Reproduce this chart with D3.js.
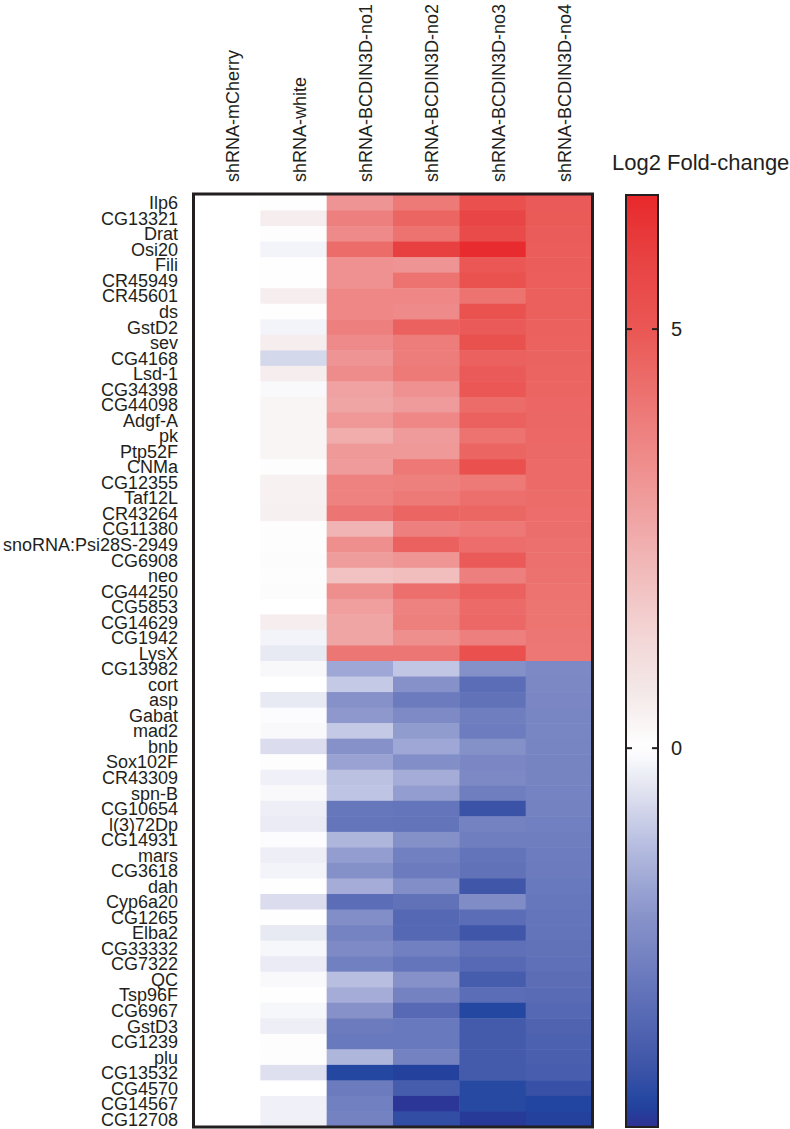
<!DOCTYPE html>
<html>
<head>
<meta charset="utf-8">
<script src="https://cdn.jsdelivr.net/npm/d3@7"></script>
<style>
  html, body { margin: 0; padding: 0; background: #ffffff; }
  svg { display: block; }
  text { font-family: "Liberation Sans", Arial, sans-serif; fill: #231f20; }
</style>
</head>
<body>
<svg id="chart" width="790" height="1129"></svg>
<script>
// ---------------- data ----------------
const samples = ["shRNA-mCherry", "shRNA-white", "shRNA-BCDIN3D-no1",
                 "shRNA-BCDIN3D-no2", "shRNA-BCDIN3D-no3", "shRNA-BCDIN3D-no4"];

const genes = ["Ilp6","CG13321","Drat","Osi20","Fili","CR45949","CR45601","ds","GstD2","sev",
  "CG4168","Lsd-1","CG34398","CG44098","Adgf-A","pk","Ptp52F","CNMa","CG12355","Taf12L",
  "CR43264","CG11380","snoRNA:Psi28S-2949","CG6908","neo","CG44250","CG5853","CG14629","CG1942","LysX",
  "CG13982","cort","asp","Gabat","mad2","bnb","Sox102F","CR43309","spn-B","CG10654",
  "l(3)72Dp","CG14931","mars","CG3618","dah","Cyp6a20","CG1265","Elba2","CG33332","CG7322",
  "QC","Tsp96F","CG6967","GstD3","CG1239","plu","CG13532","CG4570","CG14567","CG12708"];

const mCherry = [0,0,0,0,0,0,0,0,0,0, 0,0,0,0,0,0,0,0,0,0, 0,0,0,0,0,0,0,0,0,0,
                 0,0,0,0,0,0,0,0,0,0, 0,0,0,0,0,0,0,0,0,0, 0,0,0,0,0,0,0,0,0,0];

const white = [0.02,0.5,0.05,-0.2,0.03,0.03,0.5,0.02,-0.2,0.5,
  -0.7,0.5,-0.1,0.3,0.3,0.3,0.3,0.05,0.4,0.4,
  0.45,0.05,0.05,0.1,0.05,0.1,0.0,0.5,-0.2,-0.4,
  -0.12,0.0,-0.4,-0.05,-0.1,-0.6,0.05,-0.25,-0.1,-0.3,
  -0.35,-0.05,-0.3,-0.2,-0.02,-0.6,-0.02,-0.4,-0.15,-0.35,
  -0.1,-0.02,-0.15,-0.3,0.05,0.05,-0.55,0.0,-0.25,-0.25];

const no1 = [3.2,3.8,3.5,4.4,3.3,3.3,3.6,3.6,3.8,3.5,
  3.2,3.45,2.8,2.7,3.1,2.5,3.05,3.0,3.75,3.75,
  4.15,2.3,3.4,2.95,1.9,3.4,2.9,2.7,2.7,4.1,
  -1.6,-0.95,-2.05,-1.9,-0.95,-2.05,-1.7,-1.1,-1.05,-2.8,
  -2.85,-1.3,-1.8,-2.1,-1.5,-3.1,-2.15,-2.45,-2.25,-2.55,
  -1.15,-1.5,-2.05,-2.7,-2.75,-1.3,-4.2,-2.7,-2.55,-2.5];

const no2 = [4.0,4.6,4.2,5.9,3.2,4.2,3.6,3.5,4.7,3.9,
  3.9,4.0,3.3,3.0,3.6,3.0,3.05,4.05,3.85,4.0,
  4.6,3.8,4.7,3.15,2.05,4.3,3.75,3.85,3.35,4.1,
  -1.0,-2.05,-2.7,-2.25,-1.85,-1.6,-2.15,-1.5,-1.8,-2.85,
  -2.9,-2.1,-2.55,-2.7,-2.15,-2.95,-3.25,-3.25,-2.55,-2.85,
  -2.05,-2.5,-3.2,-2.75,-2.75,-2.5,-4.3,-3.6,-4.45,-4.0];

const no3 = [5.3,5.7,5.5,6.5,5.0,5.2,4.2,5.2,4.9,5.25,
  4.7,4.9,5.0,4.4,4.7,4.2,4.6,5.3,4.0,4.3,
  4.55,4.05,4.35,4.9,3.8,4.7,4.45,4.5,3.8,5.3,
  -2.1,-3.1,-2.95,-2.6,-2.65,-2.1,-2.35,-2.3,-2.6,-3.85,
  -2.5,-2.6,-2.9,-2.95,-3.75,-2.2,-3.1,-3.75,-3.0,-3.2,
  -3.6,-3.1,-4.2,-3.65,-3.65,-3.65,-3.65,-4.15,-4.15,-4.4];

const no4 = [4.9,4.88,4.86,4.84,4.82,4.8,4.77,4.74,4.71,4.68,
  4.65,4.62,4.59,4.56,4.53,4.5,4.47,4.44,4.41,4.38,
  4.35,4.32,4.29,4.26,4.23,4.2,4.17,4.14,4.11,4.08,
  -2.3,-2.32,-2.34,-2.36,-2.38,-2.4,-2.42,-2.44,-2.46,-2.5,
  -2.55,-2.6,-2.65,-2.7,-2.75,-2.8,-2.85,-2.9,-2.95,-3.0,
  -3.08,-3.15,-3.25,-3.4,-3.45,-3.5,-3.55,-3.9,-4.25,-4.3];

const colorbarTicks = [0, 5];
const colorbarTitle = "Log2 Fold-change";

// colour scale
const colorStops = [-4.52, -4.25, -3.8, -3.0, -2.0, -1.2, -0.5, 0, 0.7, 1.5, 2.7, 3.9, 5.0, 5.8, 6.6];
const colorRange = ["#2e3192","#2145a0","#3e55a8","#5f70b8","#8893ca","#b4bbdf","#e1e3f0","#ffffff",
                    "#f3e7e7","#f3d1d1","#f0a5a5","#ed7d7b","#ea5754","#e84444","#e8282b"];

// ---------------- drawing ----------------
(function () {
const columns = [mCherry, white, no1, no2, no3, no4];
const cells = [];
genes.forEach((g, i) => samples.forEach((s, j) => cells.push({gene: g, sample: s, value: columns[j][i]})));

const svg = d3.select("#chart");
const pL = 194, pR = 592, pT = 195, pB = 1127;

const x = d3.scaleBand().domain(samples).range([pL, pR]).padding(0);
const y = d3.scaleBand().domain(genes).range([pT, pB]).padding(0);
const color = d3.scaleLinear().domain(colorStops).range(colorRange).interpolate(d3.interpolateRgb).clamp(true);

svg.append("g").selectAll("rect").data(cells).join("rect")
  .attr("x", d => x(d.sample))
  .attr("y", d => y(d.gene))
  .attr("width", x.bandwidth() + 0.5)
  .attr("height", y.bandwidth() + 0.5)
  .attr("fill", d => color(d.value));

svg.append("rect")
  .attr("x", pL - 0.5).attr("y", pT - 1)
  .attr("width", pR - pL + 1).attr("height", pB - pT + 1)
  .attr("fill", "none").attr("stroke", "#231f20").attr("stroke-width", 3);

// row labels
svg.append("g").selectAll("text").data(genes).join("text")
  .attr("x", 178)
  .attr("y", d => y(d) + y.bandwidth() / 2)
  .attr("dy", "0.36em")
  .attr("text-anchor", "end")
  .attr("font-size", 18)
  .text(d => d);

// column labels
svg.append("g").selectAll("text").data(samples).join("text")
  .attr("transform", d => `translate(${x(d) + x.bandwidth() / 2 + 12},182) rotate(-90)`)
  .attr("text-anchor", "start")
  .attr("font-size", 18)
  .text(d => d);

// colour bar
const cbX = 626, cbW = 32;
const cbScale = d3.scaleLinear().domain([colorStops[0], colorStops[colorStops.length - 1]]).range([pB, pT]);
const defs = svg.append("defs");
const grad = defs.append("linearGradient").attr("id", "cbgrad")
  .attr("x1", 0).attr("y1", 1).attr("x2", 0).attr("y2", 0);
const gv = d3.range(0, 101).map(k => colorStops[0] + (colorStops[colorStops.length - 1] - colorStops[0]) * k / 100);
grad.selectAll("stop").data(gv).join("stop")
  .attr("offset", (d, k) => (k / 100))
  .attr("stop-color", d => color(d));

svg.append("rect")
  .attr("x", cbX).attr("y", pT).attr("width", cbW).attr("height", pB - pT)
  .attr("fill", "url(#cbgrad)").attr("stroke", "#231f20").attr("stroke-width", 2);

const tickG = svg.append("g").selectAll("g").data(colorbarTicks).join("g")
  .attr("transform", d => `translate(0,${cbScale(d)})`);
tickG.append("line").attr("x1", cbX).attr("x2", cbX + 6).attr("stroke", "#231f20").attr("stroke-width", 2);
tickG.append("line").attr("x1", cbX + cbW - 6).attr("x2", cbX + cbW).attr("stroke", "#231f20").attr("stroke-width", 2);
tickG.append("text").attr("x", 671).attr("dy", "0.36em").attr("font-size", 20).text(d => d);

svg.append("text").attr("x", 612).attr("y", 170).attr("font-size", 22).text(colorbarTitle);
})();
</script>
</body>
</html>
